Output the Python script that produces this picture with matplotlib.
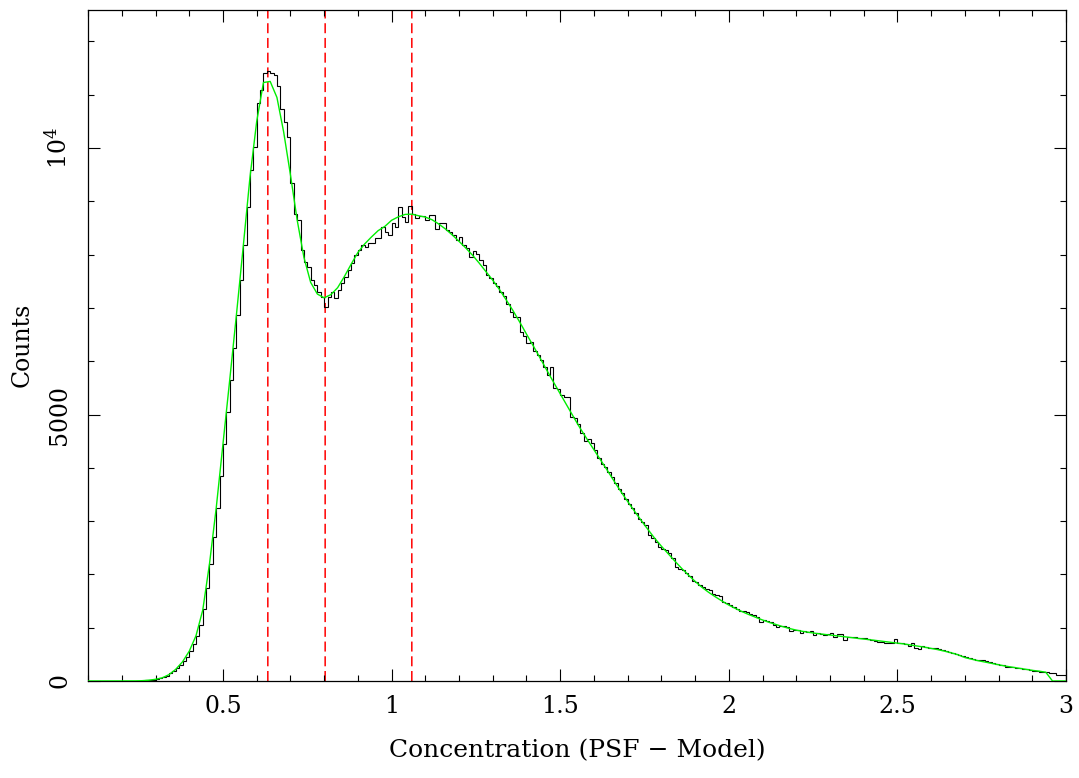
#!/usr/bin/env python3
"""Concentration (PSF - Model) histogram with smooth fit and three marker lines."""

import numpy as np
import matplotlib
matplotlib.use("Agg")
import matplotlib.pyplot as plt
from matplotlib.ticker import MultipleLocator, FixedLocator

# ---- data ------------------------------------------------------------------
BIN_LO, BIN_HI = 0.10, 3.00

# counts per 0.01 bin, left edges 0.10 ... 2.99
COUNTS = [
    0, 0, 0, 0, 0, 0, 0, 0, 0, 0,
    0, 0, 0, 1, 2, 4, 7, 11, 17, 25,
    35, 50, 70, 100, 145, 190, 240, 300, 370, 450,
    560, 690, 850, 1050, 1350, 1750, 2200, 2700, 3250, 3850,
    4450, 5050, 5650, 6250, 6870, 7520, 8180, 8900, 9580, 10020,
    10840, 11090, 11400, 11450, 11400, 11370, 11160, 10740, 10490, 10210,
    9340, 8770, 8650, 8090, 7870, 7770, 7520, 7430, 7300, 7210,
    7020, 7210, 7290, 7180, 7340, 7460, 7590, 7710, 7840, 7990,
    8090, 8180, 8150, 8220, 8220, 8310, 8310, 8520, 8430, 8370,
    8590, 8520, 8900, 8710, 8620, 8910, 8770, 8680, 8720, 8720,
    8650, 8740, 8740, 8490, 8590, 8590, 8470, 8430, 8370, 8270,
    8330, 8180, 8120, 7960, 8070, 8020, 7900, 7800, 7620, 7570,
    7460, 7420, 7300, 7220, 7070, 6930, 6830, 6830, 6540, 6470,
    6350, 6370, 6200, 6120, 6020, 5900, 5740, 5900, 5490, 5470,
    5370, 5320, 5320, 4960, 4930, 4830, 4650, 4510, 4550, 4460,
    4330, 4180, 4080, 4020, 3930, 3820, 3720, 3610, 3520, 3420,
    3330, 3240, 3146, 3034, 2990, 2930, 2739, 2680, 2610, 2520,
    2480, 2450, 2408, 2302, 2145, 2110, 2085, 2020, 1970, 1880,
    1850, 1795, 1770, 1730, 1705, 1640, 1620, 1600, 1488, 1455,
    1435, 1383, 1345, 1320, 1308, 1290, 1265, 1245, 1207, 1113,
    1140, 1125, 1105, 1051, 1020, 1038, 1025, 1007, 938, 965,
    950, 907, 930, 920, 945, 863, 895, 880, 870, 876,
    895, 820, 885, 878, 770, 826, 818, 822, 812, 814,
    808, 786, 778, 757, 738, 725, 716, 722, 712, 782,
    719, 712, 694, 663, 707, 613, 600, 657, 630, 622,
    628, 615, 606, 575, 565, 540, 532, 505, 496, 470,
    445, 430, 412, 401, 398, 386, 370, 355, 338, 326,
    305, 296, 272, 265, 258, 250, 240, 232, 221, 214,
    192, 185, 178, 171, 160, 152, 142, 120, 112, 105,
]

# smooth fit sampled every 0.02 from 0.10 to 3.00
FIT = [
    0, 0, 0, 0, 0, 0, 0, 2, 6, 15,
    32, 60, 120, 220, 360, 560, 850, 1330, 2200, 3250,
    4450, 5650, 6880, 8150, 9450, 10500, 11230, 11250, 10950, 10300,
    9500, 8650, 7950, 7480, 7260, 7190, 7250, 7380, 7590, 7820,
    8040, 8200, 8330, 8450, 8530, 8645, 8710, 8755, 8760, 8730,
    8705, 8655, 8575, 8480, 8370, 8250, 8125, 7990, 7840, 7680,
    7520, 7345, 7150, 6950, 6735, 6510, 6290, 6065, 5835, 5610,
    5390, 5170, 4950, 4735, 4535, 4340, 4145, 3950, 3750, 3555,
    3370, 3190, 3015, 2845, 2680, 2530, 2390, 2250, 2115, 1990,
    1870, 1760, 1665, 1580, 1500, 1425, 1360, 1300, 1245, 1195,
    1145, 1100, 1060, 1020, 985, 955, 930, 910, 892, 878,
    862, 848, 832, 818, 802, 788, 772, 758, 742, 728,
    712, 695, 675, 655, 635, 612, 588, 560, 528, 492,
    440, 410, 380, 355, 330, 305, 280, 260, 240, 220,
    200, 185, 165, 0, 0, 0,
]

MARKERS = [0.633, 0.803, 1.060]

XLABEL = "Concentration (PSF \u2212 Model)"
YLABEL = "Counts"
YTICKS = [0, 5000, 10000]
YTICK_LABELS = ["0", "5000", r"$10^4$"]

# ---- style -----------------------------------------------------------------
plt.rcParams.update({
    "font.family":        "DejaVu Serif",
    "mathtext.fontset":   "dejavuserif",
    "font.size":          17,
    "axes.linewidth":     0.9,
    "lines.scale_dashes": False,
})


def main() -> None:
    edges = np.linspace(BIN_LO, BIN_HI, len(COUNTS) + 1)
    fit_x = np.linspace(BIN_LO, BIN_HI, len(FIT))

    fig = plt.figure(figsize=(10.79, 7.78), dpi=100)
    ax = fig.add_axes([88.1 / 1079, 1 - 681 / 778,
                       (1066 - 88.1) / 1079, (681 - 9.5) / 778])

    # marker lines: red dashes, behind the histogram
    for m in MARKERS:
        ax.axvline(m, color="#ff0000", lw=1.1, dashes=(7.2, 3.4),
                   snap=False, zorder=1)

    ax.stairs(COUNTS, edges, color="black", lw=0.8, zorder=2)
    ax.plot(fit_x, FIT, color="#00ee00", lw=1.0, zorder=3)

    ax.set_xlim(0.1, 3.0)
    ax.set_ylim(0, 12600)

    # ---- ticks: inward, on all four sides ----
    ax.xaxis.set_major_locator(MultipleLocator(0.5))
    ax.xaxis.set_minor_locator(MultipleLocator(0.1))
    ax.xaxis.set_major_formatter(plt.FuncFormatter(lambda v, _: f"{v:g}"))
    ax.yaxis.set_major_locator(FixedLocator(YTICKS))
    ax.yaxis.set_minor_locator(MultipleLocator(1000))
    ax.set_yticks(YTICKS, YTICK_LABELS)

    ax.tick_params(which="both", direction="in", top=True, right=True,
                   width=0.8, colors="black")
    ax.tick_params(which="major", length=8.6)
    ax.tick_params(which="minor", length=4.3)
    ax.tick_params(axis="x", pad=10)
    ax.tick_params(axis="y", pad=12, labelrotation=90)
    for lab in ax.get_yticklabels():
        lab.set_verticalalignment("center")

    ax.set_xlabel(XLABEL, fontsize=18)
    ax.xaxis.set_label_coords(0.5, -0.087)
    ax.set_ylabel(YLABEL)
    ax.yaxis.set_label_coords(-0.056, 0.5)

    fig.savefig("out.png", dpi=100)


if __name__ == "__main__":
    main()
